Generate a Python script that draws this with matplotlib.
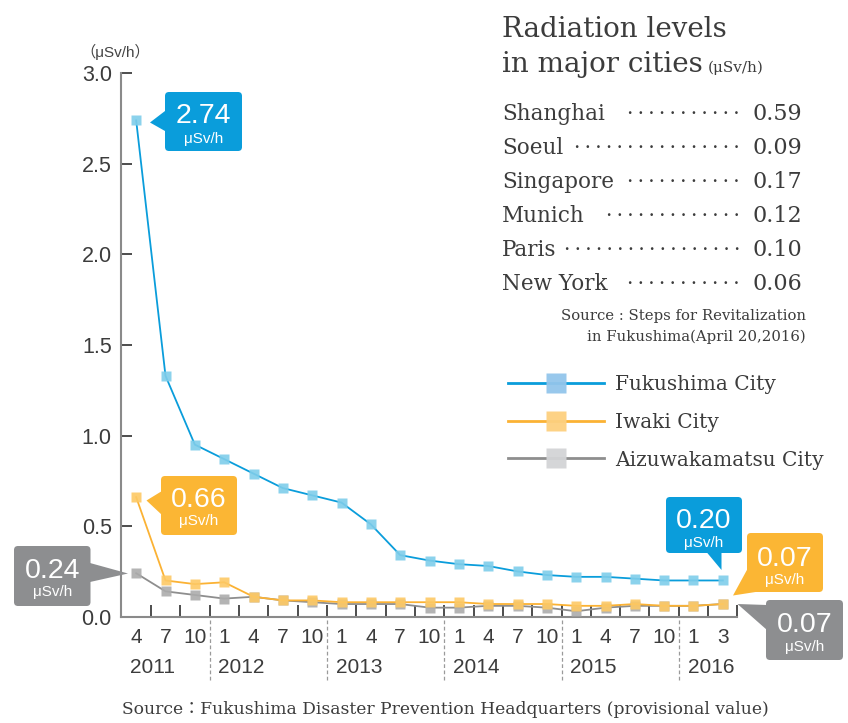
import matplotlib
matplotlib.use('Agg')
import matplotlib.pyplot as plt
from matplotlib.patches import FancyBboxPatch, Polygon
from matplotlib.lines import Line2D

# ---------------- data ----------------
months = ['4', '7', '10', '1', '4', '7', '10', '1', '4', '7', '10',
          '1', '4', '7', '10', '1', '4', '7', '10', '1', '3']
years = ['2011', '2012', '2013', '2014', '2015', '2016']
fukushima = [2.74, 1.33, 0.95, 0.87, 0.79, 0.71, 0.67, 0.63, 0.51, 0.34, 0.31,
             0.29, 0.28, 0.25, 0.23, 0.22, 0.22, 0.21, 0.20, 0.20, 0.20]
iwaki = [0.66, 0.20, 0.18, 0.19, 0.11, 0.09, 0.09, 0.08, 0.08, 0.08, 0.08,
         0.08, 0.07, 0.07, 0.07, 0.06, 0.06, 0.07, 0.06, 0.06, 0.07]
aizu = [0.24, 0.14, 0.12, 0.10, 0.11, 0.09, 0.08, 0.07, 0.07, 0.07, 0.05,
        0.05, 0.06, 0.06, 0.05, 0.03, 0.05, 0.06, 0.06, 0.06, 0.07]
series_names = ['Fukushima City', 'Iwaki City', 'Aizuwakamatsu City']
y_ticks = [0.0, 0.5, 1.0, 1.5, 2.0, 2.5, 3.0]
cities = ['Shanghai', 'Soeul', 'Singapore', 'Munich', 'Paris', 'New York']
city_values = ['0.59', '0.09', '0.17', '0.12', '0.10', '0.06']
city_dots = [11, 16, 11, 13, 17, 11]

# ---------------- style ----------------
W, H = 848, 723
SANS = ['Liberation Sans', 'DejaVu Sans', 'Noto Sans CJK JP']
SERIF = ['DejaVu Serif', 'DejaVu Sans', 'Noto Sans CJK JP']
line_colors = ['#0a9ddb', '#fbb234', '#8e8e8e']
marker_colors = ['#7fcdea', '#fdc965', '#acacac']
legend_marker_colors = ['#93c5eb', '#fdd07f', '#d3d4d6']
box_colors = ['#0a9ddb', '#fbb634', '#8d8e90']
TXT = '#3c3c3c'

fig = plt.figure(figsize=(W / 100, H / 100), dpi=100)
fig.patch.set_facecolor('white')

ax = fig.add_axes([121.5 / W, 1 - 616.7 / H, 616.0 / W, 543.4 / H])
x = list(range(len(months)))
ax.set_xlim(-0.5, len(months) - 0.5)
ax.set_ylim(0, 3.0)
ax.patch.set_alpha(0)
for s in ['top', 'right']:
    ax.spines[s].set_visible(False)
for s in ['left', 'bottom']:
    ax.spines[s].set_color('#8a8a8a')
    ax.spines[s].set_linewidth(1.5)

ax.set_yticks(y_ticks, [f'{v:.1f}' for v in y_ticks])
ax.tick_params(axis='y', direction='in', length=8, width=1.4, color='#4d4d4d',
               pad=7, labelsize=15.5, labelcolor=TXT)
for lab in ax.get_yticklabels():
    lab.set_family(SANS)
ax.set_xticks([i + 0.5 for i in x])
ax.set_xticklabels([])
ax.tick_params(axis='x', direction='in', length=8.5, width=1.4, color='#4d4d4d')

# series
for vals, lc, mc, z in [(aizu, line_colors[2], marker_colors[2], 3),
                        (iwaki, line_colors[1], marker_colors[1], 4),
                        (fukushima, line_colors[0], marker_colors[0], 5)]:
    ax.plot(x, vals, color=lc, lw=1.3, zorder=z, clip_on=False)
    ax.plot(x, vals, ls='none', marker='s', ms=7.5, mfc=mc, mec='none',
            alpha=0.9, zorder=z, clip_on=False)

# month / year labels and separators
xt = ax.get_xaxis_transform()
for i, m in enumerate(months):
    ax.text(i, -0.039, m, transform=xt, ha='center', va='center', fontsize=15,
            family=SANS, color=TXT)
starts = [0] + [i for i, m in enumerate(months) if m == '1']
for k, st in enumerate(starts):
    ax.text(st - 0.2, -0.0926, years[k], transform=xt, ha='left', va='center',
            fontsize=15, family=SANS, color=TXT)
    if st > 0:
        ax.plot([st - 0.5, st - 0.5], [-0.006, -0.117], transform=xt,
                clip_on=False, ls=(0, (3, 2)), color='#9a9a9a', lw=0.9)

# ---------------- overlay (pixel coordinates) ----------------
ov = fig.add_axes([0, 0, 1, 1], zorder=10)
ov.set_xlim(0, W)
ov.set_ylim(H, 0)
ov.axis('off')
ov.patch.set_alpha(0)

ov.text(80, 51.5, '（μSv/h）', ha='left', va='center', fontsize=11,
        family=SANS, color='#444444')


def callout(box, tip, color, value, num_base, unit_base):
    x0, y0, x1, y1 = box
    ov.add_patch(FancyBboxPatch((x0, y0), x1 - x0, y1 - y0,
                                boxstyle='round,pad=0,rounding_size=4',
                                fc=color, ec='none'))
    ov.add_patch(Polygon(tip, closed=True, fc=color, ec='none'))
    cx = (x0 + x1) / 2
    ov.text(cx, num_base, value, ha='center', va='baseline', fontsize=20.5,
            family=SANS, color='white')
    ov.text(cx, unit_base, 'μSv/h', ha='center', va='baseline', fontsize=11,
            family=SANS, color='white')


callout((165, 92, 242, 151), [(165, 111), (150, 122.5), (165, 131)],
        box_colors[0], f'{fukushima[0]:.2f}', 123, 143)
callout((161, 476, 237, 535), [(162, 491), (146.5, 500.5), (162, 515)],
        box_colors[1], f'{iwaki[0]:.2f}', 507, 525)
callout((14, 546, 90.5, 606), [(90, 563), (128, 573.5), (90, 582)],
        box_colors[2], f'{aizu[0]:.2f}', 577.5, 596)
callout((666, 497, 742, 553), [(706.5, 552), (721.5, 570), (721.5, 552)],
        box_colors[0], f'{fukushima[-1]:.2f}', 528.5, 547)
callout((747, 533, 823, 592), [(748, 568), (733, 595.5), (762, 591)],
        box_colors[1], f'{iwaki[-1]:.2f}', 566, 584)
callout((766, 600, 843, 660), [(767, 605), (737.5, 604), (767, 630)],
        box_colors[2], f'{aizu[-1]:.2f}', 632.5, 651)

# right panel
ov.text(502, 37, 'Radiation levels', ha='left', va='baseline', fontsize=20,
        family=SERIF, color=TXT)
ov.text(502, 72, 'in major cities', ha='left', va='baseline', fontsize=20,
        family=SERIF, color=TXT)
ov.text(708, 72, '(μSv/h)', ha='left', va='baseline', fontsize=11,
        family=SERIF, color=TXT)
for k, (c, v, nd) in enumerate(zip(cities, city_values, city_dots)):
    yb = 120 + 34.1 * k
    ov.text(502, yb, c, ha='left', va='baseline', fontsize=15.5, family=SERIF,
            color=TXT)
    ov.text(740, yb, '\u2009'.join(['·'] * nd), ha='right', va='baseline',
            fontsize=14.8, family=SERIF, color=TXT)
    ov.text(752, yb, v, ha='left', va='baseline', fontsize=16, family=SERIF,
            color=TXT)
ov.text(806, 320, 'Source : Steps for Revitalization', ha='right',
        va='baseline', fontsize=10.7, family=SERIF, color=TXT)
ov.text(806, 340.5, 'in Fukushima(April 20,2016)', ha='right',
        va='baseline', fontsize=10.7, family=SERIF, color=TXT)

# legend
for k, name in enumerate(series_names):
    yy = 383 + 37.5 * k
    ov.add_line(Line2D([508, 604], [yy, yy], color=line_colors[k], lw=2))
    ov.add_line(Line2D([556], [yy], ls='none', marker='s', ms=15,
                       mfc=legend_marker_colors[k], mec='none', alpha=0.95))
    ov.text(615, yy + 7.5, name, ha='left', va='baseline', fontsize=14.5,
            family=SERIF, color=TXT)

ov.text(122, 714, 'Source：Fukushima Disaster Prevention Headquarters (provisional value)',
        ha='left', va='baseline', fontsize=12.3, family=SERIF, color=TXT)

fig.savefig('out.png', dpi=100, facecolor='white')
